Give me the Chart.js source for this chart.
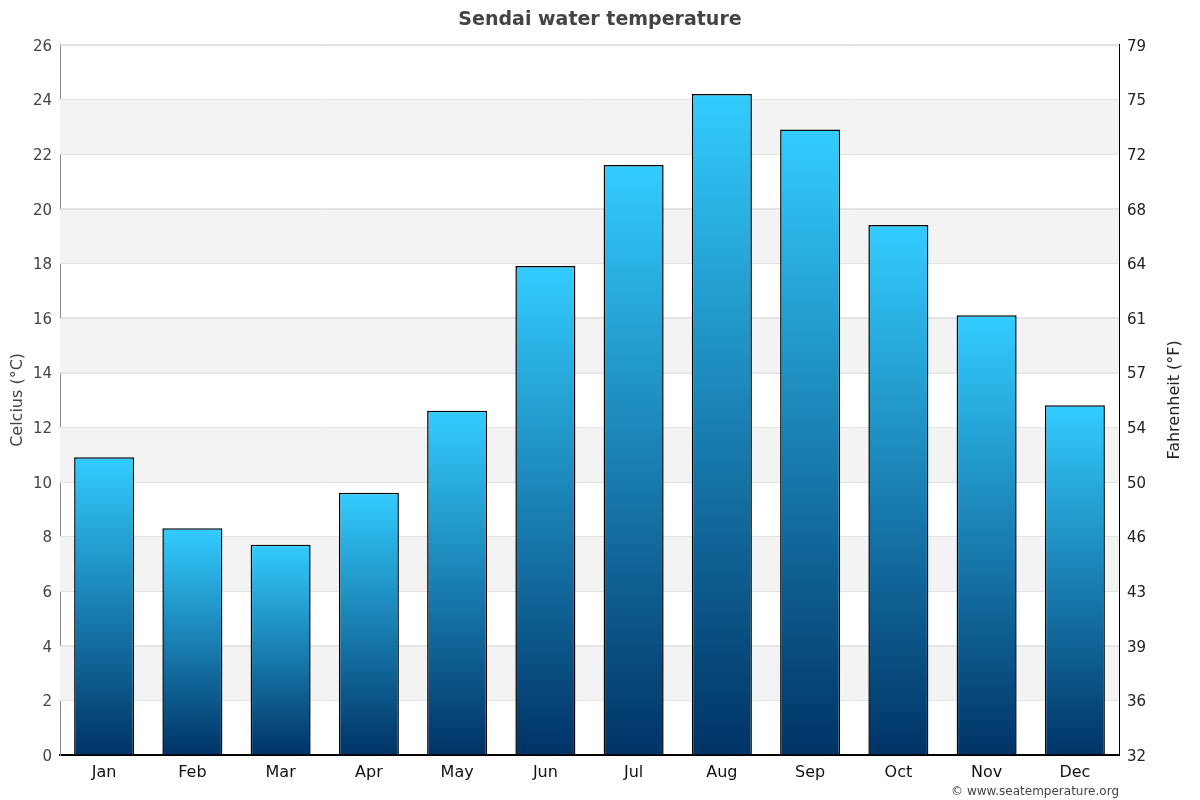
<!DOCTYPE html>
<html>
<head>
<meta charset="utf-8">
<script src="https://cdn.jsdelivr.net/npm/chart.js@4/dist/chart.umd.min.js"></script>
<style>
  html, body { margin: 0; padding: 0; background: #fff; }
</style>
</head>
<body>
<canvas id="waterChart" width="1200" height="800"></canvas>
<script>
const months = ['Jan', 'Feb', 'Mar', 'Apr', 'May', 'Jun', 'Jul', 'Aug', 'Sep', 'Oct', 'Nov', 'Dec'];
const waterTemps = [10.9, 8.3, 7.7, 9.6, 12.6, 17.9, 21.6, 24.2, 22.9, 19.4, 16.1, 12.8];
const fahrenheitLabels = [32, 36, 39, 43, 46, 50, 54, 57, 61, 64, 68, 72, 75, 79];

const FONT = 'DejaVu Sans';

// grey bands behind every other 2-degree step
const bandsPlugin = {
    id: 'bands',
    beforeDatasetsDraw(chart) {
        const { ctx, chartArea, scales } = chart;
        const y = scales.y;
        ctx.save();
        ctx.fillStyle = '#f3f3f3';
        for (let v = 2; v < 26; v += 4) {
            const top = y.getPixelForValue(v + 2);
            const bottom = y.getPixelForValue(v);
            ctx.fillRect(chartArea.left, top, chartArea.right - chartArea.left, bottom - top);
        }
        // grid lines again on top of the bands
        ctx.strokeStyle = '#e3e3e3';
        ctx.lineWidth = 1;
        for (let v = 2; v <= 26; v += 2) {
            const py = Math.round(y.getPixelForValue(v)) + 0.5;
            ctx.beginPath();
            ctx.moveTo(chartArea.left, py);
            ctx.lineTo(chartArea.right, py);
            ctx.stroke();
        }
        ctx.restore();
    }
};

// credit line and the right axis title (reads bottom to top like the left one)
const extrasPlugin = {
    id: 'extras',
    afterDraw(chart) {
        const { ctx, chartArea } = chart;
        ctx.save();
        ctx.font = '12px "' + FONT + '"';
        ctx.fillStyle = '#444';
        ctx.textAlign = 'right';
        ctx.textBaseline = 'middle';
        ctx.fillText('© www.seatemperature.org', chartArea.right, 792);

        ctx.translate(1175, (chartArea.top + chartArea.bottom) / 2);
        ctx.rotate(-Math.PI / 2);
        ctx.font = '16px "' + FONT + '"';
        ctx.fillStyle = '#222';
        ctx.textAlign = 'center';
        ctx.fillText('Fahrenheit (°F)', 0, 0);
        ctx.restore();
    }
};

function barGradient(context) {
    const chart = context.chart;
    const { ctx, chartArea } = chart;
    if (!chartArea) return '#1a8fc4';
    const y = chart.scales.y;
    const top = y.getPixelForValue(context.raw);
    const base = y.getPixelForValue(0);
    const g = ctx.createLinearGradient(0, top, 0, base);
    g.addColorStop(0, '#33ccff');
    g.addColorStop(1, '#003366');
    return g;
}

new Chart(document.getElementById('waterChart').getContext('2d'), {
    type: 'bar',
    data: {
        labels: months,
        datasets: [{
            label: 'Water temperature (°C)',
            data: waterTemps,
            backgroundColor: barGradient,
            borderColor: '#000',
            borderWidth: 1.5,
            borderSkipped: 'bottom',
            categoryPercentage: 1,
            barPercentage: 0.68
        }]
    },
    options: {
        responsive: false,
        animation: false,
        layout: { padding: 0 },
        plugins: {
            legend: { display: false },
            tooltip: { enabled: false },
            title: {
                display: true,
                text: 'Sendai water temperature',
                color: '#444',
                font: { family: FONT, size: 19, weight: 'bold' },
                padding: { top: 9, bottom: 13 }
            }
        },
        scales: {
            x: {
                grid: { display: false, drawTicks: false },
                border: { color: '#000', width: 2 },
                ticks: {
                    color: '#111',
                    padding: 8,
                    font: { family: FONT, size: 16 }
                },
                afterFit(scale) { scale.height = 45; }
            },
            y: {
                position: 'left',
                min: 0,
                max: 26,
                ticks: {
                    stepSize: 2,
                    color: '#444',
                    padding: 8,
                    labelOffset: 2,
                    font: { family: FONT, size: 15 }
                },
                grid: { color: '#e3e3e3', drawTicks: false },
                border: { color: '#888', width: 1 },
                title: {
                    display: true,
                    text: 'Celcius (°C)',
                    color: '#444',
                    font: { family: FONT, size: 16 },
                    padding: { top: 8, bottom: 0 }
                },
                afterFit(scale) { scale.width = 60; }
            },
            y2: {
                position: 'right',
                min: 0,
                max: 26,
                ticks: {
                    stepSize: 2,
                    color: '#222',
                    padding: 8,
                    labelOffset: 2,
                    font: { family: FONT, size: 15 },
                    callback: (value, index) => fahrenheitLabels[index]
                },
                grid: { display: false, drawTicks: false },
                border: { color: '#000', width: 1 },
                afterFit(scale) { scale.width = 81; }
            }
        }
    },
    plugins: [bandsPlugin, extrasPlugin]
});
</script>
</body>
</html>
